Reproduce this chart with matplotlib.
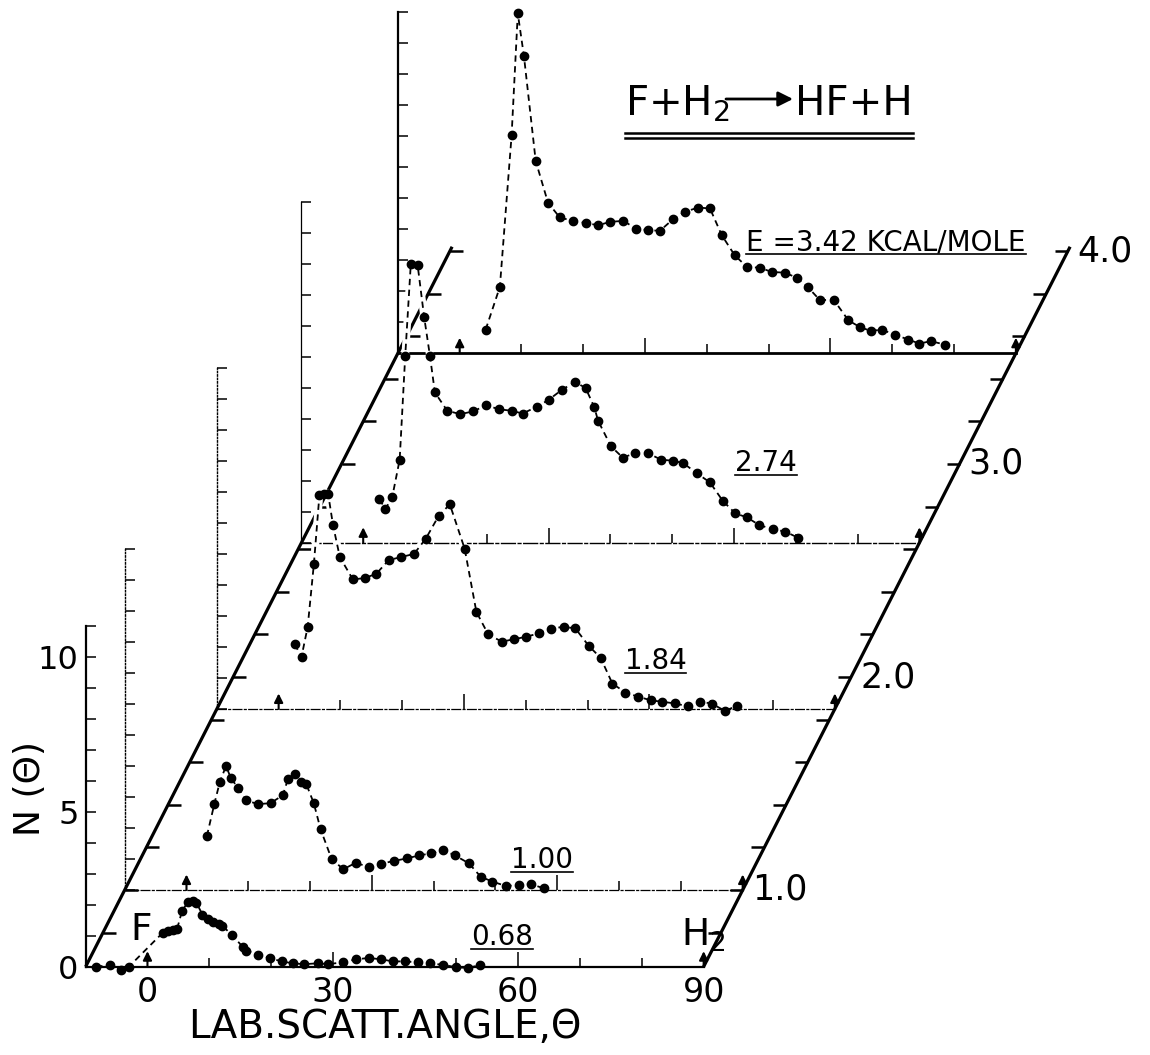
#!/usr/bin/env python3
"""F + H2 -> HF + H : lab angular distributions of HF at five collision energies."""
import numpy as np
import matplotlib
matplotlib.use('Agg')
import matplotlib.pyplot as plt

plt.rcParams.update({
    'font.family': ['DejaVu Sans'],
    'mathtext.default': 'regular',
    'figure.facecolor': 'white',
})

# --- Data ---
energies = ['0.68', '1.00', '1.84', '2.74', '3.42']      # kcal/mole
baseline_level = [0.64, 1.00, 1.85, 2.63, 3.52]           # where each baseline sits on the drawn energy scale
energy_ticks = [1.0, 2.0, 3.0, 4.0]
beam_angles = [0, 90]                                     # F beam, H2 beam

theta_068 = [-8.3, -6.1, -4.2, -3.0, 2.5, 3.3, 4.1, 4.8, 5.6, 6.6, 7.4, 7.9, 8.9, 9.8, 10.6,
             11.6, 12.1, 13.7, 15.5, 16.0, 17.9, 19.8, 21.7, 23.5, 25.4, 27.6, 29.2, 31.6,
             33.8, 35.8, 37.8, 39.7, 41.6, 43.8, 45.7, 47.8, 50.0, 51.9, 53.8]
n_068 = [0.0, 0.05, -0.1, 0.0, 1.1, 1.16, 1.18, 1.22, 1.8, 2.1, 2.13, 2.07, 1.68, 1.54, 1.43,
         1.38, 1.32, 1.02, 0.62, 0.52, 0.39, 0.28, 0.17, 0.11, 0.08, 0.11, 0.08, 0.14,
         0.24, 0.28, 0.24, 0.17, 0.17, 0.14, 0.11, 0.06, -0.02, -0.04, 0.05]

theta_100 = [3.3, 4.5, 5.4, 6.4, 7.2, 8.4, 9.6, 11.5, 13.6, 15.6, 16.4, 17.6, 18.5, 19.4, 20.6,
             21.7, 23.5, 25.4, 27.4, 29.6, 31.4, 33.6, 35.7, 37.7, 39.6, 41.5, 43.4, 45.7,
             47.6, 49.5, 51.7, 53.8, 55.7, 57.9]
n_100 = [1.74, 2.77, 3.49, 4.0, 3.6, 3.28, 2.9, 2.77, 2.8, 3.06, 3.57, 3.74, 3.49, 3.41, 2.8,
         1.96, 0.99, 0.67, 0.88, 0.73, 0.84, 0.94, 1.02, 1.12, 1.18, 1.29, 1.12, 0.86,
         0.43, 0.27, 0.13, 0.16, 0.19, 0.05]

theta_184 = [2.6, 3.7, 4.7, 5.7, 6.6, 7.3, 8.0, 8.8, 9.9, 12.0, 13.9, 15.8, 17.8, 19.8, 21.9,
             23.8, 25.9, 27.7, 30.1, 32.0, 33.9, 36.1, 38.1, 40.1, 42.1, 44.0, 46.1, 48.0,
             50.2, 52.1, 54.0, 56.1, 58.1, 60.2, 62.1, 64.1, 66.3, 68.2, 70.1, 72.2, 74.2]
n_184 = [2.09, 1.68, 2.65, 4.67, 6.9, 6.95, 6.95, 5.93, 4.9, 4.18, 4.22, 4.36, 4.8, 4.9, 5.0,
         5.49, 6.23, 6.6, 5.17, 3.13, 2.41, 2.17, 2.25, 2.33, 2.44, 2.59, 2.65, 2.6,
         2.03, 1.65, 0.82, 0.53, 0.40, 0.28, 0.23, 0.18, 0.08, 0.24, 0.17, -0.06, 0.1]

theta_274 = [2.6, 3.6, 4.7, 5.9, 6.8, 7.7, 8.8, 9.85, 10.8, 11.6, 13.6, 15.7, 17.8, 19.9, 21.9,
             24.0, 25.8, 28.1, 30.0, 32.1, 34.3, 36.0, 37.4, 38.0, 40.1, 42.0, 44.0, 46.1,
             48.2, 50.1, 51.8, 54.0, 56.1, 58.2, 60.2, 62.1, 64.1, 66.3, 68.3, 70.3]
n_274 = [1.41, 1.09, 1.48, 2.68, 6.03, 8.99, 8.97, 7.3, 6.03, 4.85, 4.26, 4.15, 4.24, 4.44, 4.31,
         4.26, 4.17, 4.39, 4.61, 4.93, 5.19, 4.99, 4.37, 3.94, 3.11, 2.75, 2.89, 2.89,
         2.68, 2.65, 2.57, 2.24, 1.95, 1.35, 0.95, 0.82, 0.57, 0.44, 0.36, 0.17]

theta_342 = [4.2, 6.5, 8.4, 9.4, 10.4, 12.3, 14.3, 16.2, 18.3, 20.4, 22.4, 24.4, 26.5, 28.5,
             30.5, 32.4, 34.5, 36.4, 38.6, 40.5, 42.4, 44.5, 46.5, 48.6, 50.5, 52.6, 54.5,
             56.3, 58.3, 60.5, 62.9, 64.7, 66.5, 68.3, 70.4, 72.6, 74.4, 76.2, 78.5]
n_342 = [0.76, 2.14, 7.03, 10.96, 9.58, 6.2, 4.85, 4.38, 4.27, 4.2, 4.13, 4.24, 4.27, 4.02,
         3.97, 3.95, 4.32, 4.56, 4.7, 4.67, 3.81, 3.16, 2.78, 2.76, 2.62, 2.6, 2.44,
         2.14, 1.71, 1.73, 1.06, 0.85, 0.72, 0.76, 0.6, 0.44, 0.31, 0.39, 0.28]

curves = [(theta_068, n_068), (theta_100, n_100), (theta_184, n_184),
          (theta_274, n_274), (theta_342, n_342)]

# --- Geometry of the oblique "3-D" frame (pixels) ---
W, H = 1150, 1055
PX_DEG, PX_N, PX_E = 6.18, 31.0, 213.0
SHEAR = 0.509                 # horizontal shift per pixel of height along the energy axis
ORIGIN_X, ORIGIN_Y, Y_E1 = 86, 966, 890
SPAN = 100 * PX_DEG           # -10 .. 90 degrees
THETA_LIM, N_LIM = (-10, 90), (0, 11)


def base_xy(e):
    y = Y_E1 - (e - 1.0) * PX_E
    return ORIGIN_X + SHEAR * (ORIGIN_Y - y), y


# baseline / vertical-axis styles, front to back
base_style = [('-', 1.6), ((0, (7, 2, 1.5, 2)), 0.9), ((0, (7, 2, 1.5, 2)), 0.9),
              ((0, (10, 2, 2, 2)), 1.0), ('-', 2.0)]
vert_style = [('-', 1.6), ((0, (1, 1.5)), 1.0), ((0, (1, 1.5)), 1.0), ('-', 0.9), ('-', 1.6)]
label_pos = [(57.3, 0.71), (57.6, 0.71), (61.0, 1.29), (65.2, 2.32), (69.0, 3.32)]

fig = plt.figure(figsize=(W / 100, H / 100), dpi=100)
bg = fig.add_axes([0, 0, 1, 1], zorder=0)
bg.set_xlim(0, W)
bg.set_ylim(H, 0)
bg.axis('off')

# energy axes (left and right oblique edges)
e_lo, e_hi = baseline_level[0], 4.02
(xa, ya), (xb, yb) = base_xy(e_lo), base_xy(e_hi)
for dx in (0, SPAN):
    bg.plot([xa + dx, xb + dx], [ya, yb], color='black', lw=2.3, solid_capstyle='butt')
for e in np.arange(0.8, 4.01, 0.2):
    x, y = base_xy(e)
    bg.plot([x, x + 13], [y, y], color='black', lw=1.8, solid_capstyle='butt')
    bg.plot([x + SPAN - 13, x + SPAN], [y, y], color='black', lw=1.8, solid_capstyle='butt')
for e in energy_ticks:
    x, y = base_xy(e)
    bg.text(x + SPAN + 9, y, f'{e:.1f}', fontsize=25, ha='left', va='center')

underlines = []
for i, (lvl, (th, n)) in enumerate(zip(baseline_level, curves)):
    x0, y0 = base_xy(lvl)
    ax = fig.add_axes([x0 / W, 1 - y0 / H, SPAN / W, N_LIM[1] * PX_N / H], zorder=10 - i)
    ax.patch.set_visible(False)
    ax.set_xlim(*THETA_LIM)
    ax.set_ylim(*N_LIM)
    ax.spines[['top', 'right']].set_visible(False)
    ax.spines['bottom'].set_linestyle(base_style[i][0])
    ax.spines['bottom'].set_linewidth(base_style[i][1])
    ax.spines['left'].set_linestyle(vert_style[i][0])
    ax.spines['left'].set_linewidth(vert_style[i][1])

    ax.set_xticks([0, 30, 60, 90])
    ax.set_xticks([10, 20, 40, 50, 70, 80], minor=True)
    ax.set_yticks(range(0, N_LIM[1] + 1))
    ax.tick_params(axis='x', which='major', direction='in', length=11, width=1.1,
                   labelsize=24, pad=7, labelbottom=(i == 0))
    ax.tick_params(axis='x', which='minor', direction='in', length=6.5, width=1.1)
    ax.tick_params(axis='y', direction='in', length=7, width=1.1,
                   labelsize=23, pad=5, labelleft=(i == 0))
    if i == 0:
        ax.set_yticklabels([str(v) if v % 5 == 0 else '' for v in range(0, N_LIM[1] + 1)])
    major = ax.xaxis.get_major_ticks()
    major[0].tick1line.set_visible(False)
    major[-1].tick1line.set_visible(False)

    for a in beam_angles:
        ax.annotate('', xy=(a, 0.5), xytext=(a, 0), annotation_clip=False,
                    arrowprops=dict(arrowstyle='-|>', color='black', lw=1.5,
                                    mutation_scale=13, shrinkA=0, shrinkB=0))

    # white underlay hides the lines of the curves behind (hidden-line look)
    ax.plot(th, n, color='white', lw=5.5, zorder=1.2, clip_on=False)
    ax.plot(th, n, color='black', lw=1.3, ls=(0, (3.5, 2.5)), marker='o', ms=6,
            zorder=3, clip_on=False)

    text = energies[i] if i < len(energies) - 1 else f'E ={energies[i]} KCAL/MOLE'
    t = ax.text(*label_pos[i], text, fontsize=20, ha='center', va='baseline')
    underlines.append((ax, t))

    if i == 0:
        ax.text(-1.1, 1.19, 'F', fontsize=27, ha='center', va='center')
        ax.text(86.3, 0.68, 'H$_2$', fontsize=27, ha='left', va='baseline')

# axis titles
bg.text(30, 789, 'N (Θ)', fontsize=26, rotation=90, ha='center', va='center')
bg.text(385, 1027, 'LAB.SCATT.ANGLE,Θ', fontsize=28, ha='center', va='center')

# reaction title
t1 = bg.text(625, 115, 'F+H$_2$', fontsize=29, ha='left', va='baseline')
bg.annotate('', xy=(793, 99), xytext=(726, 99),
            arrowprops=dict(arrowstyle='-|>', color='black', lw=2.0,
                            mutation_scale=22, shrinkA=0, shrinkB=0))
t2 = bg.text(795, 115, 'HF+H', fontsize=29, ha='left', va='baseline')

fig.canvas.draw()
for ax, t in underlines:
    bb = t.get_window_extent()
    _, yb = ax.transData.transform(t.get_position())
    inv = ax.transData.inverted()
    (ua, uy), (ub, _) = inv.transform([(bb.x0, yb - 4), (bb.x1, yb - 4)])
    ax.plot([ua, ub], [uy, uy], color='black', lw=1.2, zorder=4, clip_on=False)

bb1, bb2 = t1.get_window_extent(), t2.get_window_extent()
inv = bg.transData.inverted()
for gap in (18, 23):
    (ua, uy), (ub, _) = inv.transform([(bb1.x0, H - 115 - gap), (bb2.x1, H - 115 - gap)])
    bg.plot([ua, ub], [uy, uy], color='black', lw=1.8)

fig.savefig('out.png', dpi=100)
plt.close()
